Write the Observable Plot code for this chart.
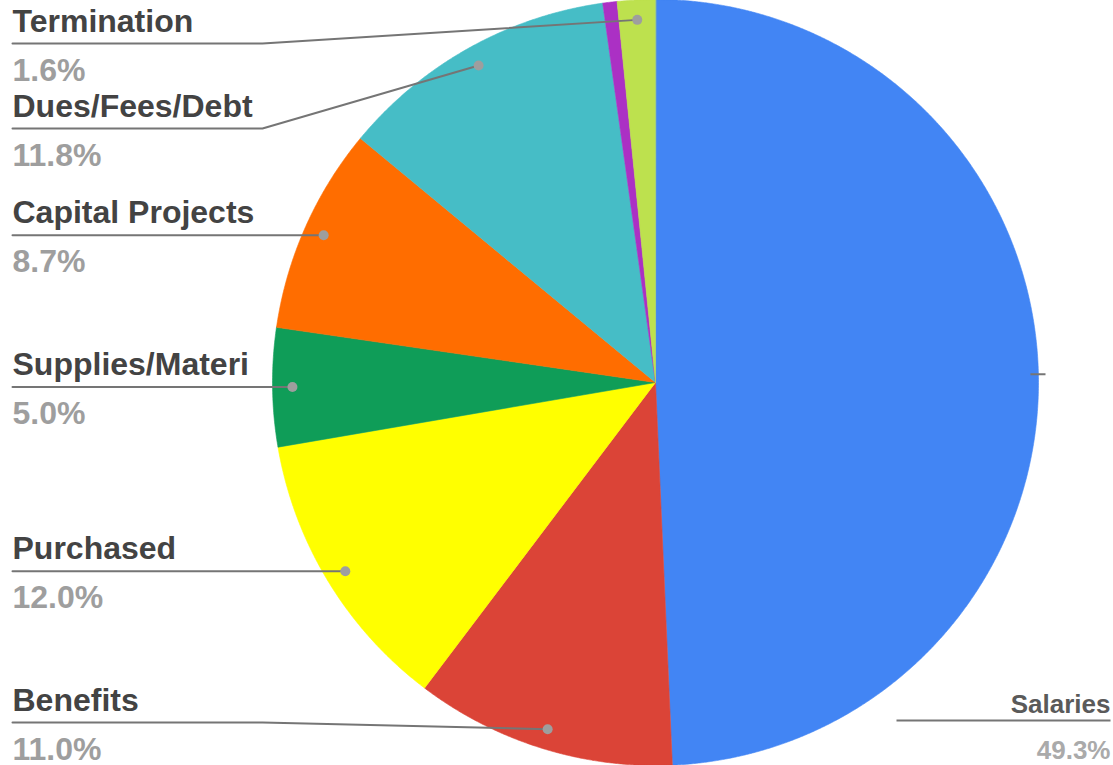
<!DOCTYPE html>
<html>
<head>
<meta charset="utf-8">
<script src="https://cdn.jsdelivr.net/npm/d3@7"></script>
<script src="https://cdn.jsdelivr.net/npm/@observablehq/plot@0.6"></script>
<style>
  html, body { margin: 0; padding: 0; background: #fff; }
  #chart svg { display: block; }
</style>
</head>
<body>
<div id="chart"></div>
<script>
// ---- data ----
const names  = ["Salaries", "Benefits", "Purchased", "Supplies/Materi", "Capital Projects", "Dues/Fees/Debt", "Other", "Termination"];
const shares = [49.3, 11.0, 12.0, 5.0, 8.7, 11.8, 0.6, 1.6];
const colors = ["#4285f4", "#db4437", "#ffff00", "#0f9d58", "#ff6d00", "#46bdc6", "#ab30c4", "#bde14e"];
const labelled = [true, true, true, true, true, true, false, true];

// ---- layout ----
const W = 1113, H = 765;
const cx = 655, cy = 382, R = 383;
const anchorR = 0.948 * R;
const leftX = 12, bendX = 262;
const minLineY = 43, maxLineY = 722, gap = 85;

const pie = d3.pie().sort(null).startAngle(0).endAngle(2 * Math.PI)(shares);
const px = (a, r) => cx + r * Math.sin(a);
const py = (a, r) => cy - r * Math.cos(a);

// slice polygons
const slicePts = [];
pie.forEach((p, i) => {
  slicePts.push({name: names[i], x: cx, y: cy});
  const n = Math.max(2, Math.ceil((p.endAngle - p.startAngle) / 0.004));
  for (let k = 0; k <= n; k++) {
    const a = p.startAngle + (p.endAngle - p.startAngle) * k / n;
    slicePts.push({name: names[i], x: px(a, R), y: py(a, R)});
  }
});

// labels
const labels = pie.map((p, i) => {
  const mid = (p.startAngle + p.endAngle) / 2;
  return {name: names[i], value: shares[i], show: labelled[i], mid,
          ax: px(mid, anchorR), ay: py(mid, anchorR), side: Math.sin(mid) >= 0 ? "right" : "left"};
}).filter(d => d.show);

const left = labels.filter(d => d.side === "left").sort((a, b) => a.ay - b.ay);
let prev = -Infinity;
left.forEach(d => { d.ly = Math.max(d.ay, minLineY, prev + gap); prev = d.ly; });
let next = Infinity;
for (let i = left.length - 1; i >= 0; i--) {
  const d = left[i];
  d.ly = Math.min(d.ly, maxLineY, next - gap);
  next = d.ly;
}
const right = labels.filter(d => d.side === "right");
right.forEach(d => { d.ly = maxLineY - 2; });

const leaderPts = [];
left.forEach(d => {
  leaderPts.push({name: d.name, x: leftX, y: d.ly});
  leaderPts.push({name: d.name, x: Math.min(bendX, d.ax), y: d.ly});
  leaderPts.push({name: d.name, x: d.ax, y: d.ay});
});

const fmt = v => d3.format(".1f")(v) + "%";
const font = "'Liberation Sans', Arial, sans-serif";

const plot = Plot.plot({
  width: W,
  height: H,
  margin: 0,
  x: {type: "identity", axis: null},
  y: {type: "identity", axis: null},
  color: {domain: names, range: colors},
  style: {fontFamily: font, background: "#fff"},
  marks: [
    Plot.line(slicePts, {x: "x", y: "y", z: "name", fill: "name", stroke: "name", strokeWidth: 0.6, curve: "linear-closed"}),
    // left leaders
    Plot.line(leaderPts, {x: "x", y: "y", z: "name", stroke: "#757575", strokeWidth: 2}),
    Plot.dot(left, {x: "ax", y: "ay", r: 5, fill: "#9e9e9e", stroke: null}),
    // right leaders
    Plot.link(right, {x1: d => px(d.mid, R - 8), y1: d => py(d.mid, R - 8), x2: cx + R + 7, y2: d => py(d.mid, R - 8), stroke: "#757575", strokeWidth: 2}),
    Plot.link(right, {x1: W - 3 - 214, x2: W - 3, y1: "ly", y2: "ly", stroke: "#757575", strokeWidth: 2}),
    // left texts
    Plot.text(left, {x: leftX, y: d => d.ly - 12, text: "name", textAnchor: "start", lineAnchor: "bottom",
                     fontSize: 32, fontWeight: "bold", fill: "#434343"}),
    Plot.text(left, {x: leftX, y: d => d.ly + 37, text: d => fmt(d.value), textAnchor: "start", lineAnchor: "bottom",
                     fontSize: 32, fontWeight: "bold", fill: "#9e9e9e"}),
    // right texts
    Plot.text(right, {x: W - 3, y: d => d.ly - 8, text: "name", textAnchor: "end", lineAnchor: "bottom",
                      fontSize: 26, fontWeight: "bold", fill: "#5a5a5a"}),
    Plot.text(right, {x: W - 3, y: d => d.ly + 38, text: d => fmt(d.value), textAnchor: "end", lineAnchor: "bottom",
                      fontSize: 26, fontWeight: "bold", fill: "#aaaaaa"})
  ]
});
document.getElementById("chart").appendChild(plot);
</script>
</body>
</html>
